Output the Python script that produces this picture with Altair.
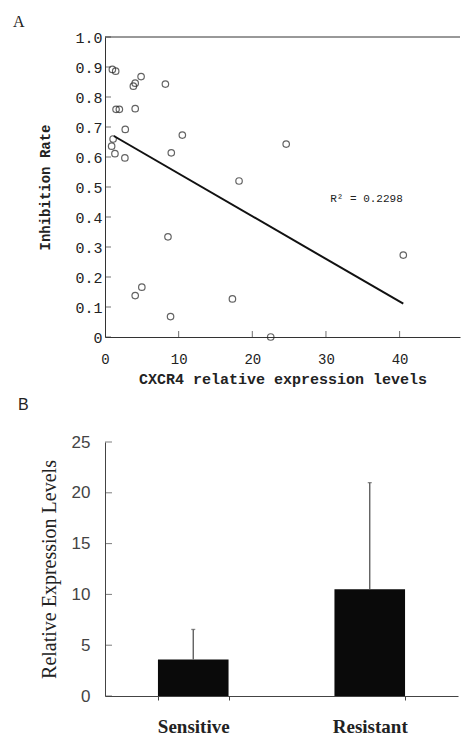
import altair as alt
import pandas as pd

# ---- Panel A data ----
cxcr4 = [1.0, 1.45, 4.9, 3.85, 4.1, 8.2, 1.5, 1.95, 4.1, 2.75, 10.5, 1.1, 0.9,
         1.35, 2.7, 9.0, 24.6, 18.2, 8.55, 40.5, 4.1, 5.0, 17.3, 8.9, 22.5]
inhibition = [0.892, 0.886, 0.868, 0.836, 0.846, 0.843, 0.759, 0.759, 0.761,
              0.692, 0.673, 0.66, 0.636, 0.611, 0.597, 0.614, 0.643, 0.52,
              0.334, 0.273, 0.138, 0.166, 0.127, 0.068, 0.0]
trend_x = [1.2, 40.5]
trend_y = [0.670, 0.111]
r2_label = ["R² = 0.2298"]
r2_x = [35.5]
r2_y = [0.46]
a_yticks = [0.0, 0.1, 0.2, 0.3, 0.4, 0.5, 0.6, 0.7, 0.8, 0.9, 1.0]
a_xticks = [0, 10, 20, 30, 40]
a_xmax = 48.2

# ---- Panel B data ----
groups = ["Sensitive", "Resistant"]
means = [3.6, 10.5]
upper = [6.55, 21.0]
b_yticks = [0, 5, 10, 15, 20, 25]

MONO = "Liberation Mono"
SERIF = "Liberation Serif"
SANS = "Liberation Sans"
INK = "#222222"

pts = pd.DataFrame({"x": cxcr4, "y": inhibition})
trend = pd.DataFrame({"x": trend_x, "y": trend_y})
ann = pd.DataFrame({"x": r2_x, "y": r2_y, "t": r2_label})
ayt = pd.DataFrame({"v": a_yticks})
axt = pd.DataFrame({"v": a_xticks[1:]})

xs = alt.Scale(domain=[0, a_xmax], nice=False)
ys = alt.Scale(domain=[0, 1], nice=False)

xaxA = alt.Axis(values=a_xticks, ticks=False, grid=False, domainColor="#333",
                labelFont=MONO, labelFontSize=14, labelColor=INK, labelPadding=15,
                labelOverlap=False,
                title="CXCR4 relative expression levels", titleFont=MONO,
                titleFontSize=15, titleFontWeight="bold", titleColor=INK,
                titlePadding=5, labelFlush=False)
yaxA = alt.Axis(values=a_yticks, ticks=False, grid=False, domainColor="#333",
                labelExpr="datum.value == 0 ? '0' : format(datum.value, '.1f')",
                labelFont=MONO, labelFontSize=15, labelColor=INK, labelPadding=3,
                labelOverlap=False,
                title="Inhibition Rate", titleFont=MONO, titleFontSize=14,
                titleFontWeight="bold", titleColor=INK, titlePadding=22)

def AX(f):
    return alt.X(f, type="quantitative", scale=xs, axis=xaxA)

def AY(f):
    return alt.Y(f, type="quantitative", scale=ys, axis=yaxA)

points = alt.Chart(pts).mark_point(shape="circle", filled=False, size=42,
                                   stroke=INK, strokeWidth=1.2).encode(
    x=AX("x"), y=AY("y"))
line = alt.Chart(trend).mark_line(color="#111", strokeWidth=2).encode(
    x=AX("x"), y=AY("y"))
text = alt.Chart(ann).mark_text(font=MONO, fontSize=11, color=INK).encode(
    x=AX("x"), y=AY("y"), text="t:N")
ytA = alt.Chart(ayt).mark_tick(color="#333", size=6, thickness=1).encode(
    y=AY("v"), x=alt.value(3))
xtA = alt.Chart(axt).mark_tick(color="#333", size=6, thickness=1).encode(
    x=AX("v"), y=alt.value(297))
topA = alt.Chart(pd.DataFrame({"v": [a_yticks[-1]]})).mark_rule(
    color="#333", strokeWidth=1).encode(y=AY("v"))

panelA = alt.layer(points, line, text, ytA, xtA, topA).properties(
    width=355, height=300,
    title=alt.TitleParams("A", anchor="start", frame="bounds", dx=-26,
                          font=SERIF, fontSize=16, fontWeight="normal",
                          color=INK, offset=0),
)

bars = pd.DataFrame({"g": groups, "m": means, "u": upper})
byt = pd.DataFrame({"v": b_yticks})
bys = alt.Scale(domain=[0, 25], nice=False)
bxs = alt.Scale(domain=groups, paddingInner=0.6, paddingOuter=0.3)

xaxB = alt.Axis(title=None, labelAngle=0, tickBand="extent", tickSize=4,
                tickColor="#444", domainColor="#444", labelFont=SERIF,
                labelFontSize=19, labelFontWeight="bold", labelColor=INK,
                labelPadding=17)
yaxB = alt.Axis(values=b_yticks, ticks=False, grid=False, domainColor="#444",
                labelFont=SANS, labelFontSize=17, labelColor="#444",
                labelPadding=15, labelOverlap=False,
                title="Relative Expression Levels",
                titleFont=SERIF, titleFontSize=20, titleFontWeight="normal",
                titleColor=INK, titlePadding=12)

def BX(f):
    return alt.X(f, type="nominal", scale=bxs, sort=groups, axis=xaxB)

def BY(f):
    return alt.Y(f, type="quantitative", scale=bys, axis=yaxB)

barm = alt.Chart(bars).mark_bar(color="#0a0a0a").encode(x=BX("g"), y=BY("m"))
err = alt.Chart(bars).mark_rule(color="#555", strokeWidth=1.3).encode(
    x=BX("g"), y=BY("m"), y2="u:Q")
cap = alt.Chart(bars).mark_tick(color="#555", size=4, thickness=1.3).encode(
    x=BX("g"), y=BY("u"))
ytB = alt.Chart(byt).mark_tick(color="#444", size=7, thickness=1).encode(
    y=BY("v"), x=alt.value(3.5))

panelB = alt.layer(barm, err, cap, ytB).properties(
    width=353, height=254,
    title=alt.TitleParams("B", anchor="start", frame="bounds", dx=-21,
                          font=SANS, fontSize=16, fontWeight="normal",
                          color=INK, offset=20),
)

chart = alt.vconcat(panelA, panelB, spacing=11).properties(
    padding={"left": 4, "top": 6, "right": 0, "bottom": 0}
).configure(background="white").configure_view(stroke=None)

chart.save("out.html", embed_options={"renderer": "svg", "actions": False})
